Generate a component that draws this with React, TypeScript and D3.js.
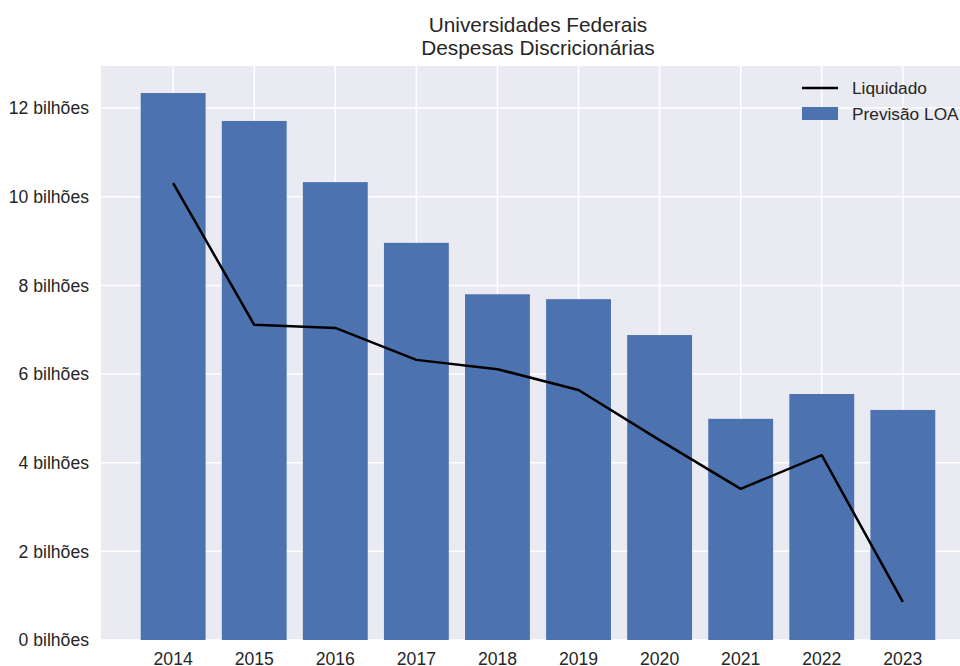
import React from "react";
import * as d3 from "d3";

const years = ["2014", "2015", "2016", "2017", "2018", "2019", "2020", "2021", "2022", "2023"];
const previsaoLOA = [12.34, 11.71, 10.33, 8.96, 7.8, 7.69, 6.88, 4.99, 5.55, 5.19];
const liquidado = [10.31, 7.11, 7.04, 6.32, 6.11, 5.64, 4.51, 3.41, 4.17, 0.86];
const yTicks = [0, 2, 4, 6, 8, 10, 12];

const W = 960;
const H = 666;
const left = 101;
const right = 975;
const top = 66;
const bottom = 640;
const font = "'Liberation Sans', Arial, sans-serif";
const textColor = "#262626";

export default function App() {
  const x = d3.scaleLinear().domain([-0.89, years.length - 1 + 0.89]).range([left, right]);
  const y = d3.scaleLinear().domain([0, 12.95]).range([bottom, top]);
  const bw = 0.8;
  const line = d3
    .line<number>()
    .x((_, i) => x(i))
    .y((d) => y(d));

  return (
    <svg width={W} height={H} style={{ position: "absolute", left: 0, top: 0 }} fontFamily={font}>
      <rect x={0} y={0} width={W} height={H} fill="#ffffff" />
      <rect x={left} y={top} width={right - left} height={bottom - top} fill="#EAEAF2" />
      {yTicks.map((t) => (
        <line key={"gy" + t} x1={left} x2={right} y1={y(t)} y2={y(t)} stroke="#ffffff" strokeWidth={1.5} />
      ))}
      {years.map((_, i) => (
        <line key={"gx" + i} x1={x(i)} x2={x(i)} y1={top} y2={bottom} stroke="#ffffff" strokeWidth={1.5} />
      ))}
      {previsaoLOA.map((v, i) => (
        <rect
          key={"b" + i}
          x={x(i - bw / 2)}
          width={x(i + bw / 2) - x(i - bw / 2)}
          y={y(v)}
          height={y(0) - y(v)}
          fill="#4C72B0"
        />
      ))}
      <path d={line(liquidado) || ""} fill="none" stroke="#000000" strokeWidth={2.5} strokeLinejoin="round" />
      {yTicks.map((t) => (
        <text key={"ty" + t} x={89} y={y(t)} dy="0.35em" textAnchor="end" fontSize={17.6} fill={textColor}>
          {t} bilhões
        </text>
      ))}
      {years.map((yr, i) => (
        <text key={"tx" + i} x={x(i)} y={665} textAnchor="middle" fontSize={17.6} fill={textColor}>
          {yr}
        </text>
      ))}
      <text x={(left + right) / 2} y={25} dy="0.35em" textAnchor="middle" fontSize={20.8} fill={textColor}>
        Universidades Federais
      </text>
      <text x={(left + right) / 2} y={48} dy="0.35em" textAnchor="middle" fontSize={20.8} fill={textColor}>
        Despesas Discricionárias
      </text>
      <line x1={802} x2={838} y1={88} y2={88} stroke="#000000" strokeWidth={2.5} />
      <text x={852} y={88} dy="0.35em" fontSize={17.3} fill={textColor}>Liquidado</text>
      <rect x={802} y={107} width={36} height={13} fill="#4C72B0" />
      <text x={852} y={114} dy="0.35em" fontSize={17.3} fill={textColor}>Previsão LOA</text>
    </svg>
  );
}
